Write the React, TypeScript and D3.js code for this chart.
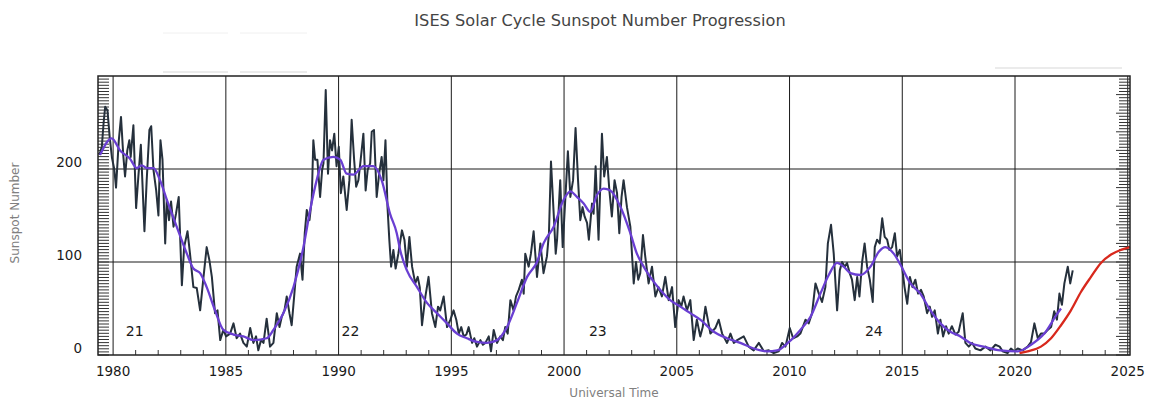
import React from 'react';
import * as d3 from 'd3';

const TITLE = 'ISES Solar Cycle Sunspot Number Progression';
const X_LABEL = 'Universal Time';
const Y_LABEL = 'Sunspot Number';

const yearTicks = [1980, 1985, 1990, 1995, 2000, 2005, 2010, 2015, 2020, 2025];
const valueTicks = [0, 100, 200];
const cycleNames = ['21', '22', '23', '24'];
const cycleYears = [1980.96, 1990.53, 2001.5, 2013.74];
const cycleLabelValue = 26;

// Monthly sunspot number (year, value)
const monthlySSN: [number, number][] = [
  [1979.39, 215], [1979.5, 224], [1979.58, 250], [1979.65, 267], [1979.75, 263], [1979.85, 234], [1979.95, 212],
  [1980.05, 200], [1980.13, 180], [1980.25, 230], [1980.35, 256], [1980.45, 215], [1980.53, 192], [1980.63, 220],
  [1980.72, 231], [1980.78, 213], [1980.9, 247], [1981.02, 158], [1981.12, 192], [1981.23, 226], [1981.39, 133],
  [1981.49, 188], [1981.61, 242], [1981.69, 246], [1981.79, 199], [1981.91, 177], [1982.01, 150], [1982.1, 231],
  [1982.19, 210], [1982.31, 120], [1982.38, 167], [1982.48, 145], [1982.57, 165], [1982.68, 138], [1982.79, 152],
  [1982.91, 170], [1983.05, 75], [1983.15, 116], [1983.3, 133], [1983.41, 109], [1983.56, 73], [1983.71, 72],
  [1983.86, 48], [1984.01, 84], [1984.15, 116], [1984.27, 102], [1984.38, 84], [1984.52, 45], [1984.63, 48],
  [1984.75, 16], [1984.89, 27], [1985.01, 20], [1985.19, 23], [1985.34, 34], [1985.48, 18], [1985.63, 23],
  [1985.78, 13], [1985.93, 9], [1986.08, 29], [1986.22, 13], [1986.34, 20], [1986.44, 5], [1986.56, 16],
  [1986.67, 13], [1986.81, 39], [1986.96, 9], [1987.11, 13], [1987.26, 45], [1987.38, 30], [1987.48, 41],
  [1987.6, 48], [1987.7, 63], [1987.82, 45], [1987.92, 32], [1988.04, 66], [1988.14, 95], [1988.29, 109],
  [1988.4, 81], [1988.5, 131], [1988.59, 156], [1988.71, 145], [1988.81, 167], [1988.88, 231], [1988.96, 210],
  [1989.06, 210], [1989.18, 170], [1989.27, 199], [1989.33, 206], [1989.43, 285], [1989.53, 195], [1989.62, 231],
  [1989.71, 220], [1989.81, 238], [1989.91, 203], [1990.01, 224], [1990.1, 174], [1990.21, 192], [1990.36, 156],
  [1990.48, 188], [1990.58, 253], [1990.69, 210], [1990.78, 181], [1990.88, 188], [1990.98, 210], [1991.1, 238],
  [1991.2, 177], [1991.29, 199], [1991.4, 206], [1991.47, 240], [1991.57, 242], [1991.69, 170], [1991.8, 195],
  [1991.91, 213], [1991.99, 188], [1992.08, 231], [1992.17, 159], [1992.25, 124], [1992.33, 95], [1992.43, 113],
  [1992.53, 93], [1992.65, 109], [1992.81, 134], [1992.92, 124], [1993.03, 95], [1993.14, 127], [1993.26, 95],
  [1993.4, 77], [1993.51, 84], [1993.6, 73], [1993.7, 32], [1993.85, 63], [1993.99, 84], [1994.14, 45],
  [1994.29, 30], [1994.41, 52], [1994.51, 48], [1994.66, 63], [1994.81, 30], [1994.96, 38], [1995.1, 48],
  [1995.22, 38], [1995.33, 23], [1995.44, 30], [1995.55, 20], [1995.67, 22], [1995.77, 30], [1995.92, 13],
  [1996.02, 18], [1996.14, 9], [1996.29, 16], [1996.4, 11], [1996.51, 13], [1996.66, 20], [1996.76, 4],
  [1996.88, 27], [1997.03, 13], [1997.17, 20], [1997.29, 16], [1997.39, 30], [1997.5, 23], [1997.62, 59],
  [1997.76, 48], [1997.87, 63], [1997.99, 70], [1998.13, 81], [1998.21, 66], [1998.28, 109], [1998.43, 95],
  [1998.53, 109], [1998.65, 133], [1998.8, 84], [1998.95, 120], [1999.09, 88], [1999.24, 106], [1999.33, 131],
  [1999.42, 208], [1999.54, 152], [1999.63, 109], [1999.69, 124], [1999.83, 188], [1999.94, 116], [2000.06, 170],
  [2000.17, 219], [2000.28, 170], [2000.4, 188], [2000.51, 244], [2000.62, 188], [2000.72, 145], [2000.82, 159],
  [2000.91, 149], [2001.02, 142], [2001.1, 124], [2001.24, 163], [2001.31, 152], [2001.4, 203], [2001.53, 124],
  [2001.68, 238], [2001.78, 192], [2001.9, 213], [2002.01, 177], [2002.12, 149], [2002.24, 188], [2002.35, 174],
  [2002.45, 131], [2002.55, 170], [2002.64, 188], [2002.79, 159], [2002.94, 138], [2003.09, 77], [2003.19, 100],
  [2003.29, 81], [2003.38, 88], [2003.5, 129], [2003.6, 106], [2003.75, 77], [2003.9, 95], [2004.05, 63],
  [2004.19, 73], [2004.34, 63], [2004.49, 84], [2004.64, 59], [2004.79, 73], [2004.93, 30], [2005.08, 59],
  [2005.2, 52], [2005.3, 63], [2005.45, 48], [2005.6, 59], [2005.75, 16], [2005.89, 38], [2006.04, 20],
  [2006.15, 30], [2006.27, 52], [2006.49, 23], [2006.71, 29], [2006.86, 38], [2007.01, 23], [2007.23, 13],
  [2007.38, 23], [2007.53, 13], [2007.68, 16], [2007.97, 20], [2008.19, 9], [2008.41, 5], [2008.64, 13],
  [2008.86, 4], [2009.08, 5], [2009.3, 2], [2009.52, 4], [2009.67, 13], [2009.82, 9], [2010.01, 29],
  [2010.16, 18], [2010.34, 20], [2010.48, 23], [2010.71, 38], [2010.85, 34], [2011.0, 45], [2011.15, 77],
  [2011.3, 66], [2011.44, 57], [2011.59, 73], [2011.7, 120], [2011.84, 140], [2011.96, 109], [2012.11, 48],
  [2012.23, 91], [2012.33, 100], [2012.45, 95], [2012.55, 99], [2012.67, 88], [2012.77, 81], [2012.89, 59],
  [2013.0, 84], [2013.1, 63], [2013.22, 100], [2013.33, 120], [2013.44, 95], [2013.56, 81], [2013.69, 57],
  [2013.78, 116], [2013.88, 124], [2014.0, 120], [2014.11, 147], [2014.22, 127], [2014.33, 124], [2014.43, 113],
  [2014.55, 116], [2014.67, 131], [2014.77, 106], [2014.89, 113], [2014.99, 95], [2015.1, 73], [2015.22, 55],
  [2015.34, 84], [2015.45, 73], [2015.58, 81], [2015.7, 66], [2015.83, 70], [2015.95, 63], [2016.1, 45],
  [2016.22, 52], [2016.32, 41], [2016.44, 48], [2016.58, 23], [2016.69, 38], [2016.81, 20], [2016.94, 31],
  [2017.06, 23], [2017.2, 31], [2017.36, 22], [2017.5, 25], [2017.68, 45], [2017.8, 13], [2017.95, 9],
  [2018.1, 13], [2018.24, 7], [2018.47, 5], [2018.69, 9], [2018.91, 5], [2019.13, 11], [2019.32, 9],
  [2019.45, 4], [2019.67, 2], [2019.82, 7], [2019.97, 4], [2020.12, 7], [2020.34, 5], [2020.56, 9],
  [2020.71, 14], [2020.86, 34], [2021.01, 18], [2021.15, 23], [2021.3, 23], [2021.45, 27], [2021.6, 30],
  [2021.74, 47], [2021.86, 38], [2021.97, 66], [2022.08, 54], [2022.19, 77], [2022.34, 95], [2022.45, 77],
  [2022.56, 91],
];

// Smoothed sunspot number (year, value)
const smoothedSSN: [number, number][] = [
  [1979.42, 215], [1979.94, 233], [1980.31, 220], [1980.75, 211], [1981.05, 201], [1981.27, 204], [1981.49, 201],
  [1981.79, 201], [1982.08, 188], [1982.38, 167], [1982.82, 138], [1983.27, 109], [1983.56, 93], [1983.86, 88],
  [1984.15, 73], [1984.52, 48], [1984.89, 27], [1985.34, 22], [1985.78, 20], [1986.22, 16], [1986.81, 18],
  [1987.11, 27], [1987.55, 45], [1988.0, 73], [1988.44, 116], [1988.74, 156], [1989.03, 188], [1989.33, 210],
  [1989.77, 213], [1990.07, 210], [1990.36, 195], [1990.66, 194], [1991.1, 203], [1991.54, 203], [1991.91, 188],
  [1992.28, 152], [1992.58, 131], [1992.73, 113], [1993.03, 91], [1993.48, 73], [1993.92, 56], [1994.36, 45],
  [1994.81, 34], [1995.25, 23], [1995.69, 18], [1996.14, 14], [1996.58, 13], [1997.03, 16], [1997.47, 30],
  [1997.91, 56], [1998.36, 84], [1998.8, 100], [1999.09, 120], [1999.54, 138], [1999.98, 167], [2000.28, 176],
  [2000.57, 170], [2000.87, 163], [2001.16, 154], [2001.46, 172], [2001.76, 179], [2002.05, 177], [2002.49, 160],
  [2002.94, 131], [2003.23, 109], [2003.53, 95], [2003.82, 84], [2004.27, 70], [2004.71, 59], [2005.16, 52],
  [2005.6, 45], [2006.04, 38], [2006.64, 25], [2007.23, 18], [2007.82, 13], [2008.41, 7], [2009.01, 4],
  [2009.45, 5], [2009.97, 14], [2010.48, 27], [2010.93, 41], [2011.37, 66], [2011.74, 86], [2012.11, 99],
  [2012.4, 95], [2012.7, 88], [2013.14, 86], [2013.59, 95], [2013.96, 111], [2014.25, 116], [2014.62, 109],
  [2014.92, 97], [2015.36, 77], [2015.8, 66], [2016.25, 48], [2016.69, 34], [2017.13, 25], [2017.58, 20],
  [2018.02, 13], [2018.61, 9], [2019.35, 5], [2020.12, 4], [2020.71, 11], [2021.3, 23], [2021.89, 45],
  [2022.04, 50],
];

// Predicted cycle 25 (year, value)
const predictedSSN: [number, number][] = [
  [2020.2, 2], [2020.56, 4], [2021.15, 9], [2021.6, 18], [2022.04, 32], [2022.48, 48], [2022.93, 68],
  [2023.37, 84], [2023.81, 99], [2024.26, 108], [2024.7, 113], [2025.1, 116],
];

const W = 1151;
const H = 400;
const PLOT = { left: 98, right: 1130, top: 76, bottom: 355 };
const FONT = '"DejaVu Sans", Verdana, sans-serif';

export default function App() {
  const x = d3.scaleLinear().domain([1979.33, 2025.1]).range([PLOT.left, PLOT.right]);
  const y = d3.scaleLinear().domain([0, 300]).range([PLOT.bottom, PLOT.top]);

  const rawLine = d3
    .line<[number, number]>()
    .x((d) => x(d[0]))
    .y((d) => y(d[1]))
    .curve(d3.curveLinear);
  const smoothLine = d3
    .line<[number, number]>()
    .x((d) => x(d[0]))
    .y((d) => y(d[1]))
    .curve(d3.curveMonotoneX);

  const minorYears = d3.range(1980, 2026).filter((yr) => yr % 5 !== 0);
  const minorValues = d3.range(0, 300, 10 / 3);

  return (
    <svg
      width={W}
      height={H}
      style={{ position: 'absolute', left: 0, top: 0, background: '#fff' }}
      fontFamily={FONT}
    >
      <rect x={0} y={0} width={W} height={H} fill="#fff" />
      {/* faint leftover legend strips */}
      <g stroke="#e4e4e4" strokeWidth={1.5}>
        <line x1={163} x2={228} y1={72} y2={72} />
        <line x1={240} x2={307} y1={72} y2={72} />
        <line x1={995} x2={1122} y1={68} y2={68} />
      </g>
      <g stroke="#f0f0f0" strokeWidth={1}>
        <line x1={163} x2={228} y1={33} y2={33} />
        <line x1={240} x2={307} y1={33} y2={33} />
      </g>

      <text x={600} y={20} textAnchor="middle" dominantBaseline="central" fontSize={16.2} fill="#444">
        {TITLE}
      </text>

      {/* grid */}
      <g stroke="#1a1a1a" strokeWidth={1}>
        {yearTicks.map((t) => (
          <line key={'gx' + t} x1={x(t)} x2={x(t)} y1={PLOT.top} y2={PLOT.bottom} />
        ))}
        {valueTicks
          .filter((v) => v > 0)
          .map((v) => (
            <line key={'gy' + v} x1={PLOT.left} x2={PLOT.right} y1={y(v)} y2={y(v)} />
          ))}
      </g>

      {/* minor ticks */}
      <g stroke="#333" strokeWidth={1}>
        {minorValues.map((v, i) => (
          <line key={'ml' + i} x1={PLOT.left} x2={PLOT.left + 11} y1={y(v)} y2={y(v)} />
        ))}
        {minorValues.map((v, i) => (
          <line key={'mr' + i} x1={PLOT.right - (i % 6 === 0 ? 14 : 11)} x2={PLOT.right} y1={y(v)} y2={y(v)} />
        ))}
        {minorYears.map((t) => (
          <line key={'mx' + t} x1={x(t)} x2={x(t)} y1={PLOT.bottom} y2={PLOT.bottom - 5} />
        ))}
      </g>

      {/* series */}
      <path d={rawLine(monthlySSN) || ''} fill="none" stroke="#25303c" strokeWidth={2} strokeLinejoin="round" />
      <path d={smoothLine(smoothedSSN) || ''} fill="none" stroke="#6a3fd2" strokeWidth={2.3} />
      <path d={smoothLine(predictedSSN) || ''} fill="none" stroke="#d8281c" strokeWidth={2.3} />

      {/* frame */}
      <rect
        x={PLOT.left}
        y={PLOT.top}
        width={PLOT.right - PLOT.left}
        height={PLOT.bottom - PLOT.top}
        fill="none"
        stroke="#222"
        strokeWidth={1.5}
      />

      {/* cycle labels */}
      {cycleNames.map((n, i) => (
        <text
          key={n}
          x={x(cycleYears[i])}
          y={y(cycleLabelValue)}
          textAnchor="middle"
          dominantBaseline="central"
          fontSize={14}
          fill="#1a1a1a"
        >
          {n}
        </text>
      ))}

      {/* axis labels */}
      {yearTicks.map((t) => (
        <text key={'tx' + t} x={x(t)} y={371} textAnchor="middle" dominantBaseline="central" fontSize={13.5} fill="#1a1a1a">
          {t}
        </text>
      ))}
      {valueTicks.map((v) => (
        <text key={'ty' + v} x={82} y={y(v) - 7} textAnchor="end" dominantBaseline="central" fontSize={13.5} fill="#1a1a1a">
          {v}
        </text>
      ))}
      <text x={614} y={393} textAnchor="middle" dominantBaseline="central" fontSize={12} fill="#808080">
        {X_LABEL}
      </text>
      <text
        transform={`translate(15,213) rotate(-90)`}
        textAnchor="middle"
        dominantBaseline="central"
        fontSize={12}
        fill="#808080"
      >
        {Y_LABEL}
      </text>
    </svg>
  );
}
